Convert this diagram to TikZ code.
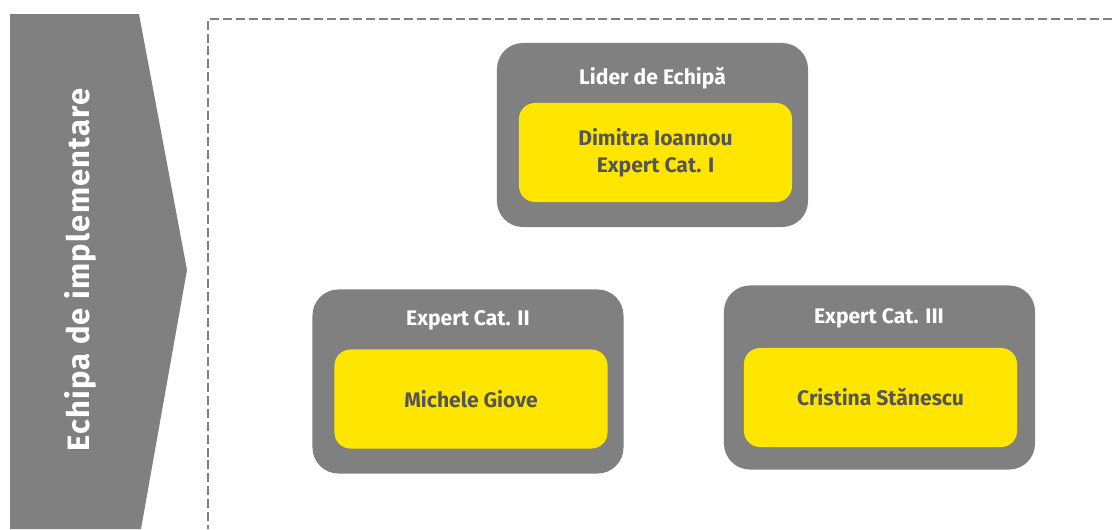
\documentclass[tikz,border=0pt]{standalone}
\usepackage{fontspec}
\setmainfont{Fira Sans}
\usetikzlibrary{positioning}
\definecolor{eygray}{RGB}{128,128,128}
\definecolor{eyyellow}{RGB}{255,230,0}
\definecolor{eytext}{RGB}{85,85,85}

\begin{document}
\begin{tikzpicture}[x=0.025cm,y=-0.025cm,outer box/.style={rectangle,rounded corners=0.65cm,fill=eygray,minimum width=7.775cm,minimum height=4.6cm,inner sep=0pt},name box/.style={rectangle,rounded corners=0.4cm,fill=eyyellow,minimum width=6.825cm,minimum height=2.475cm,inner sep=0pt,text=eytext,align=center,font=\bfseries\fontsize{15}{19.5}\selectfont},title/.style={text=white,inner sep=0pt,font=\bfseries\fontsize{15}{18}\selectfont}]
\useasboundingbox (0,0) rectangle (1112,529);
\fill[eygray] (10,14) -- (139,14) -- (187,270) -- (141,529) -- (10,529) -- cycle;
\node[rotate=90,text=white,font=\bfseries\fontsize{22}{26}\selectfont\addfontfeatures{LetterSpace=4}] (team) at (80,270) {Echipa de implementare};
\draw[eygray,line width=2.1pt,dash pattern=on 6.4pt off 2.8pt] (1112,19) -- (208,19) -- (208,529);
\begin{scope}
\node[outer box] (lead) at (652.5,135) {};
\node[outer box] (cat2) at (468,381.5) {};
\node[outer box] (cat3) at (879.5,377.5) {};
\node[title] (leadtitle) at (652.5,78) {Lider de Echipă};
\node[title] (cat2title) at (468,320) {Expert Cat. II};
\node[title] (cat3title) at (879,318) {Expert Cat. III};
\node[name box] (leadname) at (655.5,152.5) {Dimitra Ioannou\\Expert Cat. I};
\node[name box] (cat2name) at (471,399) {Michele Giove};
\node[name box] (cat3name) at (880.5,397.5) {Cristina Stănescu};
\end{scope}
\end{tikzpicture}
\end{document}
